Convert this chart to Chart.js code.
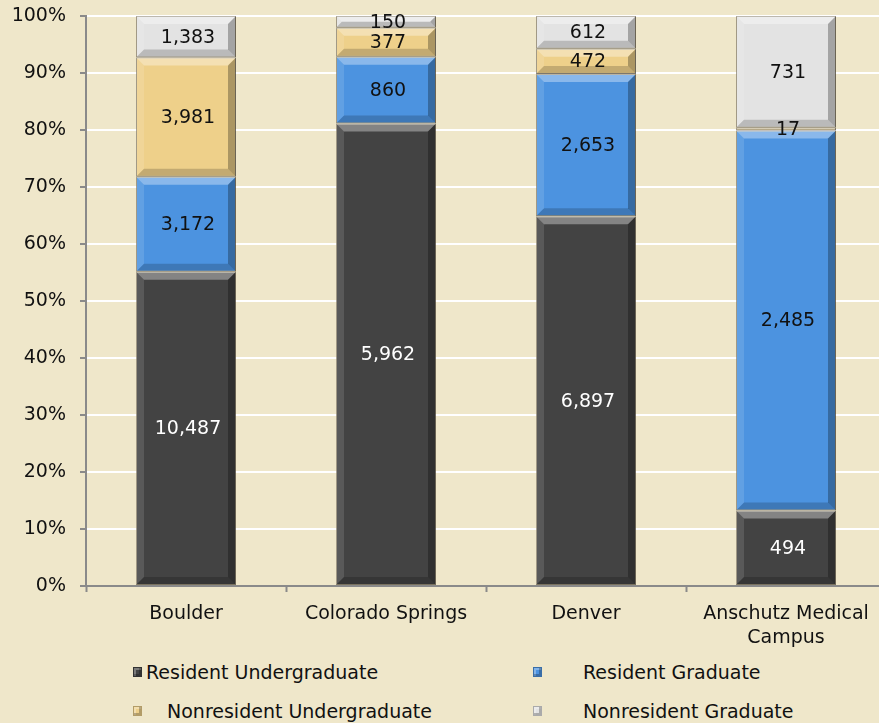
<!DOCTYPE html>
<html>
<head>
<meta charset="utf-8">
<script src="https://cdn.jsdelivr.net/npm/chart.js@4"></script>
<style>
  html, body { margin: 0; padding: 0; background: #efe7ca; overflow: hidden; }
  #wrap { position: relative; width: 879px; height: 723px; overflow: hidden; font-family: "DejaVu Sans", sans-serif; }
  #chartBox { position: absolute; left: 0; top: 0; width: 886px; height: 650px; }
  .lg { position: absolute; font-size: 19px; color: #111; line-height: 20px; white-space: nowrap; }
  .mk { position: absolute; width: 9px; height: 10px; box-sizing: border-box; border: 1px solid rgba(0,0,0,0.25); }
</style>
</head>
<body>
<div id="wrap">
  <div id="chartBox"><canvas id="chart" width="886" height="650"></canvas></div>
  <div id="legend"></div>
</div>
<script>
const campuses = ["Boulder", "Colorado Springs", "Denver", ["Anschutz Medical", "Campus"]];
const seriesNames = ["Resident Undergraduate", "Resident Graduate", "Nonresident Undergraduate", "Nonresident Graduate"];
const residentUndergrad = [10487, 5962, 6897, 494];
const residentGrad = [3172, 860, 2653, 2485];
const nonresidentUndergrad = [3981, 377, 472, 17];
const nonresidentGrad = [1383, 150, 612, 731];
const seriesColors = ["#434343", "#4c93e0", "#eed08a", "#e3e3e3"];
const labelColors = ["#ffffff", "#111111", "#111111", "#111111"];
const yTicks = [0, 10, 20, 30, 40, 50, 60, 70, 80, 90, 100];

const FONT = "'DejaVu Sans', sans-serif";
const FSIZE = 19;
const counts = [residentUndergrad, residentGrad, nonresidentUndergrad, nonresidentGrad];
const totals = campuses.map((c, i) => counts.reduce((s, arr) => s + arr[i], 0));

// bevelled look on each bar segment
const bevelPlugin = {
  id: "bevel",
  afterDatasetsDraw(chart) {
    const ctx = chart.ctx;
    chart.data.datasets.forEach((ds, di) => {
      chart.getDatasetMeta(di).data.forEach(bar => {
        const p = bar.getProps(["x", "y", "base", "width"], true);
        const l = p.x - p.width / 2, r = p.x + p.width / 2;
        const t = Math.min(p.y, p.base), b = Math.max(p.y, p.base);
        const bv = Math.min(8, (b - t) / 2, p.width / 2);
        if (bv <= 0.5) return;
        const poly = (pts, fill) => {
          ctx.beginPath();
          ctx.moveTo(pts[0][0], pts[0][1]);
          pts.slice(1).forEach(q => ctx.lineTo(q[0], q[1]));
          ctx.closePath();
          ctx.fillStyle = fill;
          ctx.fill();
        };
        ctx.save();
        poly([[l, t], [r, t], [r - bv, t + bv], [l + bv, t + bv]], "rgba(255,255,255,0.35)");
        poly([[l, t], [l + bv, t + bv], [l + bv, b - bv], [l, b]], "rgba(255,255,255,0.12)");
        poly([[r, t], [r, b], [r - bv, b - bv], [r - bv, t + bv]], "rgba(0,0,0,0.28)");
        poly([[l, b], [l + bv, b - bv], [r - bv, b - bv], [r, b]], "rgba(0,0,0,0.18)");
        ctx.restore();
      });
    });
  }
};

const valueLabels = {
  id: "valueLabels",
  afterDatasetsDraw(chart) {
    const ctx = chart.ctx;
    ctx.save();
    ctx.font = FSIZE + "px " + FONT;
    ctx.textAlign = "center";
    ctx.textBaseline = "middle";
    chart.data.datasets.forEach((ds, di) => {
      chart.getDatasetMeta(di).data.forEach((bar, i) => {
        const p = bar.getProps(["x", "y", "base"], true);
        ctx.fillStyle = labelColors[di];
        ctx.fillText(counts[di][i].toLocaleString("en-US"), p.x + 2, (p.y + p.base) / 2 + 1);
      });
    });
    ctx.restore();
  }
};

new Chart(document.getElementById("chart"), {
  type: "bar",
  data: {
    labels: campuses,
    datasets: seriesNames.map((name, di) => ({
      label: name,
      data: counts[di].map((v, i) => v / totals[i] * 100),
      backgroundColor: seriesColors[di],
      borderColor: "rgba(110,100,80,0.7)",
      borderWidth: 1,
      borderSkipped: false,
      barPercentage: 0.5,
      categoryPercentage: 1.0
    }))
  },
  options: {
    responsive: false,
    animation: false,
    layout: { padding: { top: 16, right: 0, left: 0, bottom: 0 } },
    plugins: { legend: { display: false }, tooltip: { enabled: false } },
    scales: {
      x: {
        stacked: true,
        grid: { offset: true, drawOnChartArea: false, drawTicks: true, tickLength: 6, tickColor: "#8a8a8a", tickWidth: 2 },
        border: { color: "#8a8a8a", width: 2 },
        ticks: { color: "#111", font: { size: FSIZE, family: FONT, lineHeight: 1.26 }, padding: 10, maxRotation: 0 },
        afterFit(scale) { scale.height = 64; }
      },
      y: {
        stacked: true,
        min: 0,
        max: 100,
        afterBuildTicks(scale) { scale.ticks = yTicks.map(v => ({ value: v })); },
        grid: {
          color: ctx => ctx.tick && ctx.tick.value === 0 ? "rgba(0,0,0,0)" : "#ffffff",
          lineWidth: 2,
          tickLength: 6,
          tickColor: "#8a8a8a",
          tickWidth: 2
        },
        border: { color: "#8a8a8a", width: 2 },
        ticks: { color: "#111", font: { size: FSIZE, family: FONT }, padding: 14, callback: v => v + "%" },
        afterFit(scale) {
          scale.width = 86;
          scale.paddingTop = 0;
          scale.paddingBottom = 0;
        }
      }
    }
  },
  plugins: [bevelPlugin, valueLabels]
});

// legend in two columns like the original
const legendPos = [
  { mx: 133, tx: 146, y: 672 },
  { mx: 533, tx: 583, y: 672 },
  { mx: 133, tx: 167, y: 711 },
  { mx: 533, tx: 583, y: 711 }
];
const legend = document.getElementById("legend");
seriesNames.forEach((name, i) => {
  const p = legendPos[i];
  const mk = document.createElement("div");
  mk.className = "mk";
  mk.style.left = p.mx + "px";
  mk.style.top = (p.y - 5) + "px";
  mk.style.background = seriesColors[i];
  mk.style.boxShadow = "inset -2px -2px 0 rgba(0,0,0,0.25), inset 2px 2px 0 rgba(255,255,255,0.3)";
  legend.appendChild(mk);
  const tx = document.createElement("div");
  tx.className = "lg";
  tx.style.left = p.tx + "px";
  tx.style.top = (p.y - 10) + "px";
  tx.textContent = name;
  legend.appendChild(tx);
});
</script>
</body>
</html>
